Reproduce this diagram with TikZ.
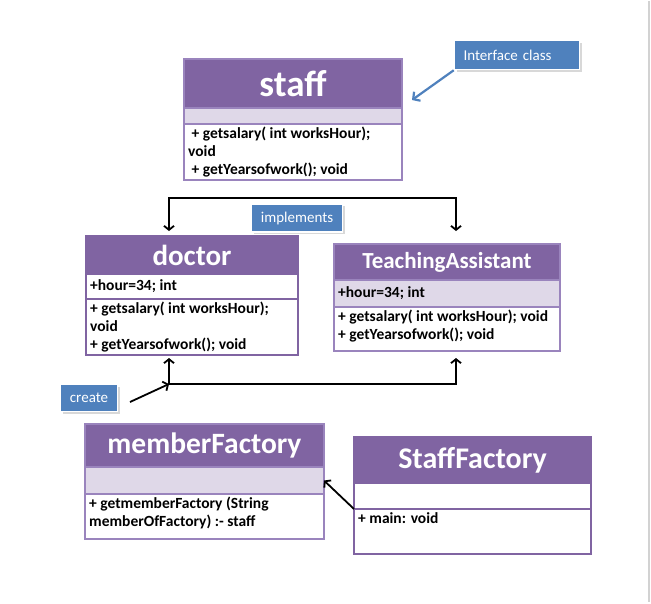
\documentclass[tikz,border=0pt]{standalone}
\usepackage{fontspec}
\setmainfont{Carlito}
\usetikzlibrary{arrows.meta,shadows}
\definecolor{umlpurple}{HTML}{8064A2}
\definecolor{umllav}{HTML}{DFD8E8}
\definecolor{umledge}{HTML}{9A84BD}
\definecolor{noteblue}{HTML}{4F81BD}

\begin{document}
\begin{tikzpicture}[x=1pt, y=-1pt,
    >={Straight Barb[length=4pt,width=10pt]},
    cls/.style={draw=umledge, line width=2pt, anchor=north west, inner sep=0pt, outer sep=0pt},
    clstitle/.style={cls, fill=umlpurple, text=white, font=\fontsize{#1}{#1}\selectfont\bfseries},
    clsattr/.style={cls, fill=umllav},
    clsops/.style={cls, fill=white},
    attrtext/.style={anchor=west, inner xsep=4pt, font=\fontsize{15.5}{18}\selectfont\bfseries},
    opstext/.style={anchor=north west, align=left, inner xsep=4pt, inner ysep=3pt, font=\fontsize{15.5}{18}\selectfont\bfseries},
    note/.style={fill=noteblue, draw=white, line width=1.5pt, text=white, inner sep=0pt,
        font=\fontsize{15}{18}\selectfont,
        drop shadow={shadow xshift=2pt, shadow yshift=-2pt, opacity=.3}},
    conn/.style={line width=1.8pt}]

    % page
    \fill[white] (0,0) rectangle (651,601);
    \draw[gray!35, line width=2pt] (649,0) -- (649,601);

    % staff
    \node[clstitle=37, minimum width=218pt, minimum height=49pt] (staff-title) at (184,58) {staff};
    \node[clsattr, minimum width=218pt, minimum height=16pt] (staff-attr) at (staff-title.south west) {};
    \node[clsops, minimum width=218pt, minimum height=56pt,
        label={[opstext]north west:{~+ getsalary( int worksHour);\\void\\~+ getYearsofwork(); void}}] (staff-ops) at (staff-attr.south west) {};

    % doctor
    \node[clstitle=29, draw=umlpurple, minimum width=212pt, minimum height=38pt] (doctor-title) at (86,235) {doctor};
    \node[clsops, draw=umlpurple, minimum width=212pt, minimum height=25pt,
        label={[attrtext]west:+hour=34; int}] (doctor-attr) at (doctor-title.south west) {};
    \node[clsops, draw=umlpurple, minimum width=212pt, minimum height=56pt,
        label={[opstext]north west:{+ getsalary( int worksHour);\\void\\+ getYearsofwork(); void}}] (doctor-ops) at (doctor-attr.south west) {};

    % TeachingAssistant
    \node[clstitle=23, minimum width=226pt, minimum height=36pt] (ta-title) at (334,243) {TeachingAssistant};
    \node[clsattr, minimum width=226pt, minimum height=27pt,
        label={[attrtext]west:+hour=34; int}] (ta-attr) at (ta-title.south west) {};
    \node[clsops, minimum width=226pt, minimum height=44pt,
        label={[opstext]north west:{+ getsalary( int worksHour); void\\+ getYearsofwork(); void}}] (ta-ops) at (ta-attr.south west) {};

    % memberFactory
    \node[clstitle=29.5, minimum width=239pt, minimum height=43pt] (mfactory-title) at (85,423) {memberFactory};
    \node[clsattr, minimum width=239pt, minimum height=27pt] (mfactory-attr) at (mfactory-title.south west) {};
    \node[clsops, minimum width=239pt, minimum height=45pt,
        label={[opstext]north west:{+ getmemberFactory (String\\memberOfFactory) :- staff}}] (mfactory-ops) at (mfactory-attr.south west) {};

    % StaffFactory
    \node[clstitle=30, draw=umlpurple, minimum width=237pt, minimum height=46pt] (sfactory-title) at (354,436) {StaffFactory};
    \node[clsops, draw=umlpurple, minimum width=237pt, minimum height=26pt] (sfactory-attr) at (sfactory-title.south west) {};
    \node[clsops, draw=umlpurple, minimum width=237pt, minimum height=45pt,
        label={[opstext]north west:{+ main: void}}] (sfactory-ops) at (sfactory-attr.south west) {};

    % notes
    \node[note, text width=107pt, inner xsep=9pt, minimum height=29pt, align=left] (iface) at (517,54) {Interface class};
    \node[note, minimum width=91pt, minimum height=28pt] (impl) at (297,217) {implements};
    \node[note, minimum width=57pt, minimum height=27pt] (create) at (89,397) {create};

    % connectors
    \coordinate (iface-tip) at (412,99);
    \draw[conn, noteblue, line width=2.2pt, -{Straight Barb[length=5pt,width=11pt]}] (iface.south west) -- (iface-tip);

    \coordinate (impl-l) at (169,230);
    \coordinate (impl-r) at (456,230);
    \coordinate (impl-top) at (300,197);
    \draw[conn, <->] (impl-l) |- (impl-top) -| (impl-r);

    \coordinate (make-l) at (169,357);
    \coordinate (make-r) at (456,357);
    \coordinate (make-join) at (169,383);
    \draw[conn, <->] (make-l) -- (make-join) -| (make-r);

    \coordinate (create-tail) at (130,401);
    \draw[conn, ->] (create-tail) -- (make-join);

    \draw[conn, ->] (sfactory-ops.north west) -- (mfactory-attr.east);
\end{tikzpicture}
\end{document}
